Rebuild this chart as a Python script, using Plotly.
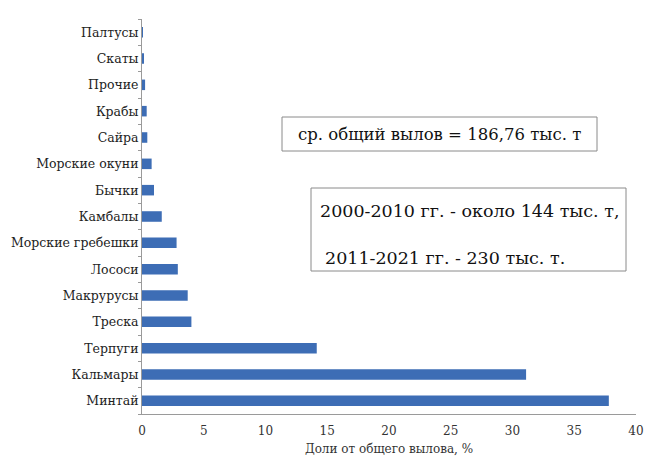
import plotly.graph_objects as go

categories = ["Минтай", "Кальмары", "Терпуги", "Треска", "Макрурусы", "Лососи",
              "Морские гребешки", "Камбалы", "Бычки", "Морские окуни", "Сайра",
              "Крабы", "Прочие", "Скаты", "Палтусы"]
shares = [37.8, 31.1, 14.15, 4.0, 3.7, 2.9, 2.8, 1.6, 0.97, 0.78, 0.43, 0.38, 0.25, 0.1, 0.05]
x_ticks = [0, 5, 10, 15, 20, 25, 30, 35, 40]

FONT = "DejaVu Serif"

fig = go.Figure(go.Bar(
    y=categories, x=shares, orientation="h",
    marker=dict(color="#3d6db5", line=dict(width=0)),
    width=0.4,
))

L, R, T, B = 142, 636, 19, 414
W, H = 651, 456
pw, ph = R - L, B - T

def px(x):
    return (x - L) / pw

def py(y):
    return (B - y) / ph

fig.update_layout(
    width=W, height=H,
    margin=dict(l=L, r=W - R, t=T, b=H - B),
    plot_bgcolor="white", paper_bgcolor="white",
    showlegend=False,
    font=dict(family=FONT, color="#222222", size=12),
    bargap=0.6,
)
fig.update_xaxes(
    range=[0, 40], tickvals=x_ticks, ticktext=[str(v) for v in x_ticks],
    showgrid=False, zeroline=False, automargin=False,
    showline=True, linecolor="#9a9a9a", linewidth=1,
    ticks="", tickfont=dict(size=12, family=FONT, color="#333333"),
    ticklabelstandoff=6,
    title=dict(text="Доли от общего вылова, %", font=dict(size=12, family=FONT, color="#333333"), standoff=9),
)
fig.update_yaxes(
    categoryorder="array", categoryarray=categories,
    showgrid=False, zeroline=False, automargin=False,
    showline=True, linecolor="#9a9a9a", linewidth=1,
    ticks="outside", ticklen=3, tickcolor="#9a9a9a", tickson="boundaries",
    tickfont=dict(size=12.5, family=FONT, color="#222222"),
    ticklabelstandoff=0,
)

# Box 1
fig.add_shape(type="rect", xref="paper", yref="paper",
              x0=px(282), x1=px(597), y0=py(151), y1=py(117),
              line=dict(color="#8a8a8a", width=1), fillcolor="white")
fig.add_annotation(xref="paper", yref="paper", x=px(439.5), y=py(134),
                   text="ср. общий вылов = 186,76 тыс. т", showarrow=False,
                   font=dict(size=16.5, family=FONT, color="#111111"),
                   xanchor="center", yanchor="middle")
# Box 2
fig.add_shape(type="rect", xref="paper", yref="paper",
              x0=px(311), x1=px(626), y0=py(271), y1=py(188),
              line=dict(color="#8a8a8a", width=1), fillcolor="white")
fig.add_annotation(xref="paper", yref="paper", x=px(318), y=py(211),
                   text="2000-2010 гг. - около 144 тыс. т,", showarrow=False,
                   font=dict(size=17.5, family=FONT, color="#111111"),
                   xanchor="left", yanchor="middle")
fig.add_annotation(xref="paper", yref="paper", x=px(323), y=py(258),
                   text="2011-2021 гг. - 230 тыс. т.", showarrow=False,
                   font=dict(size=17.5, family=FONT, color="#111111"),
                   xanchor="left", yanchor="middle")

fig.write_html("out.html")
